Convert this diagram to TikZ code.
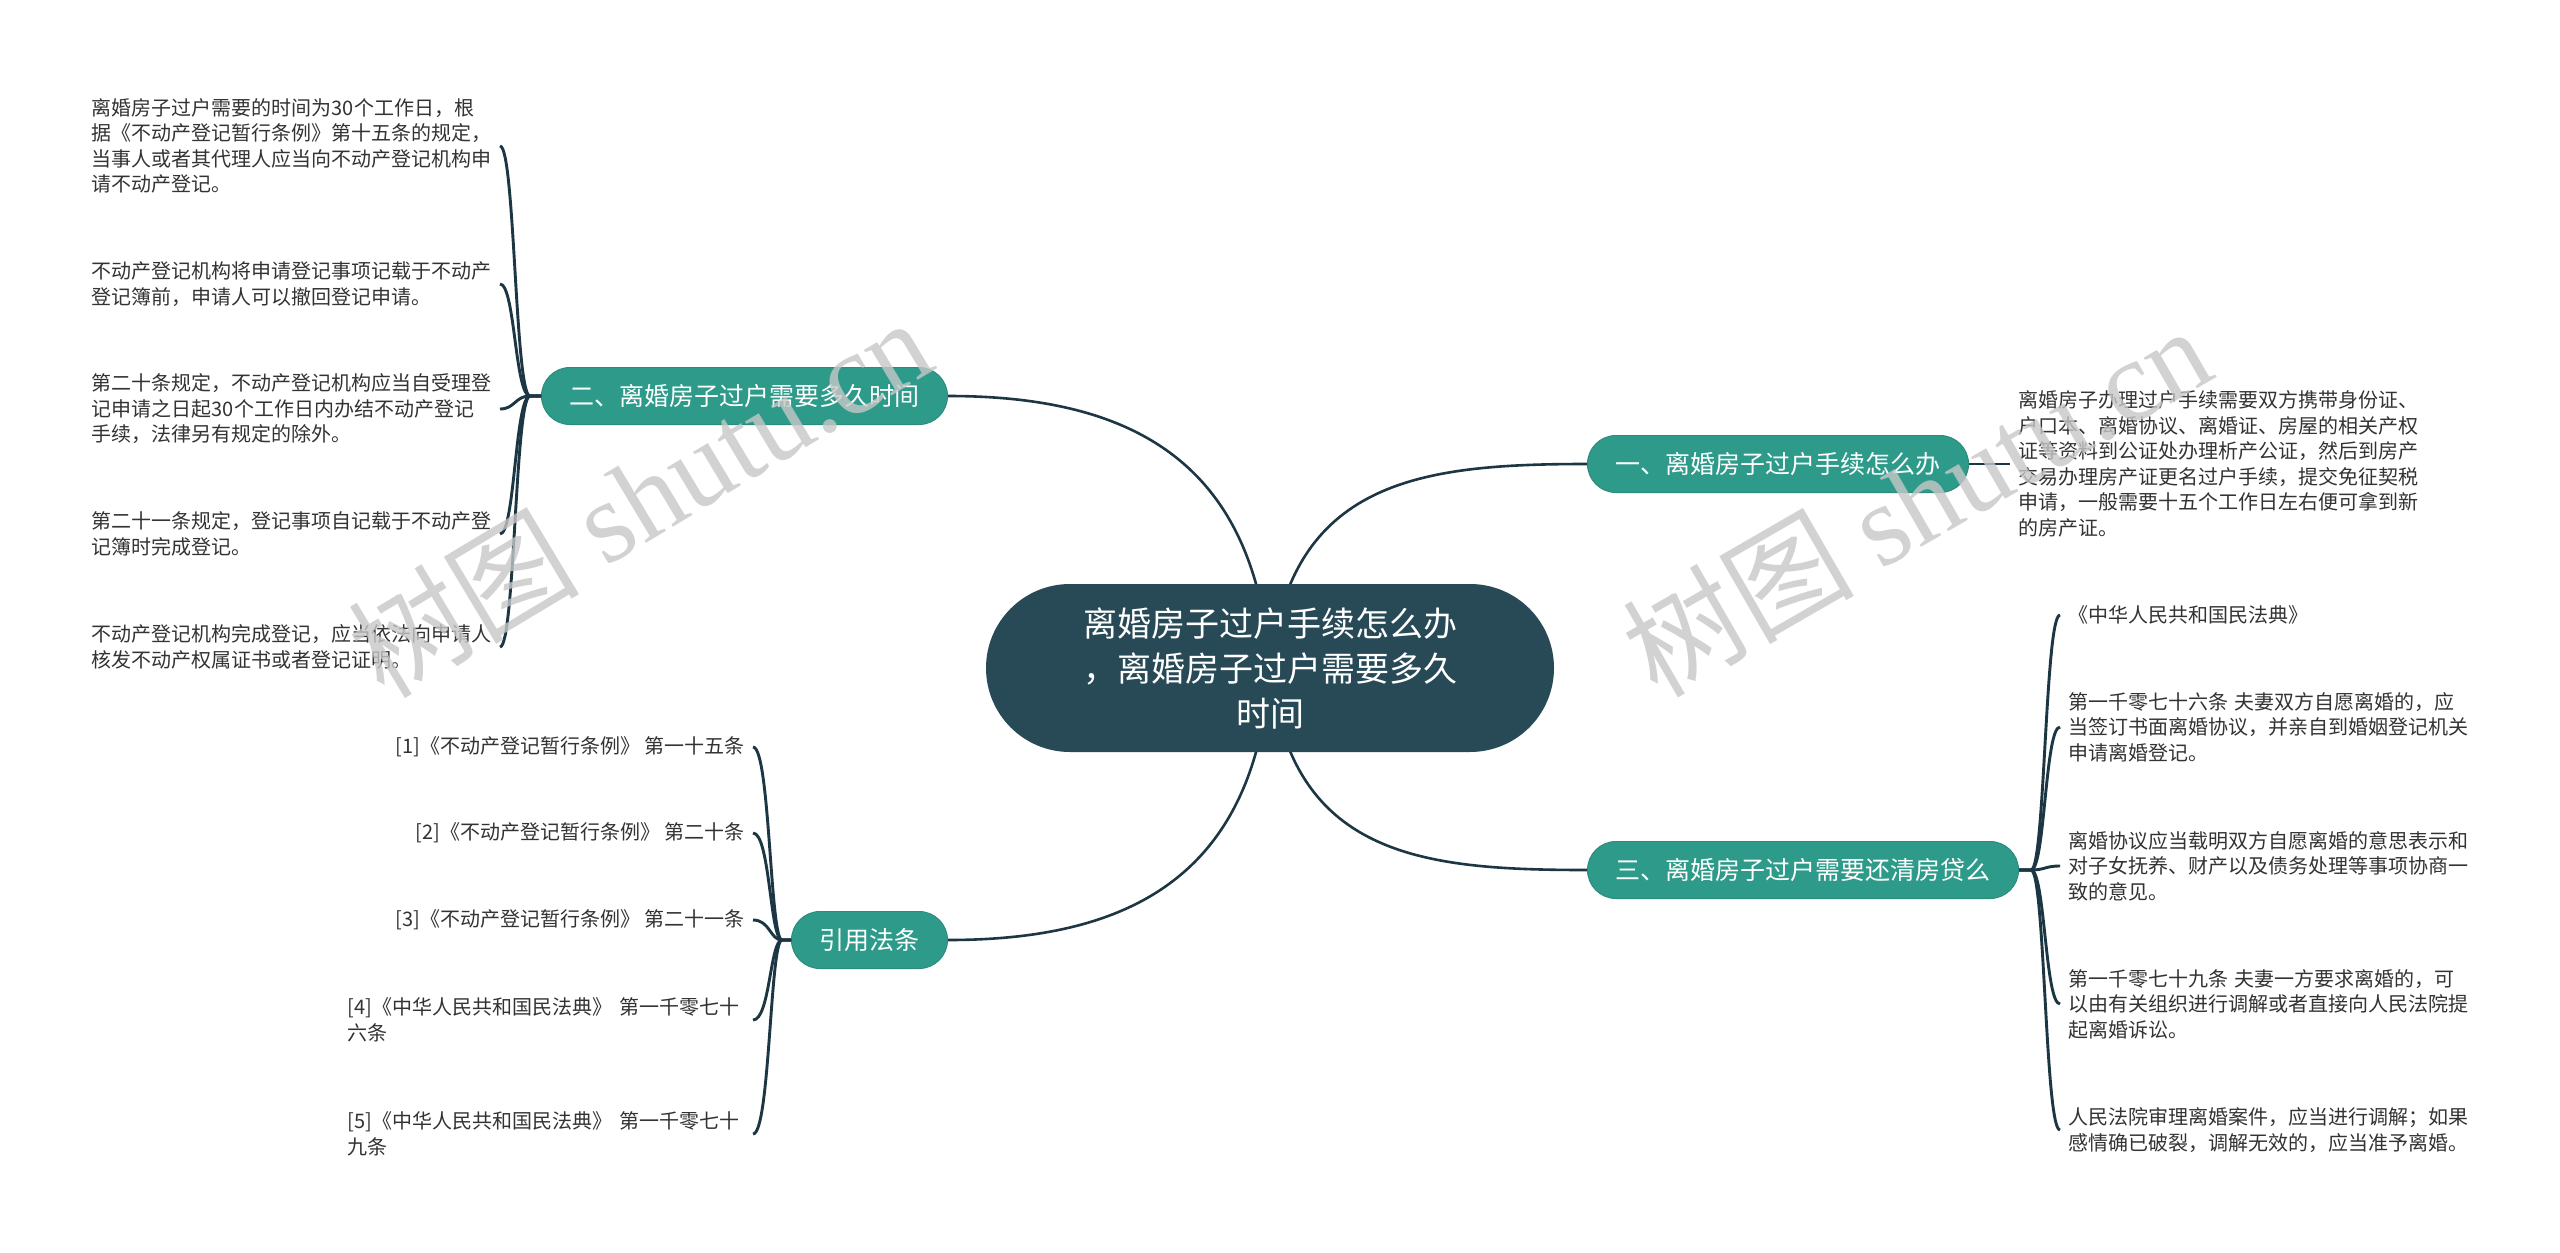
\documentclass[tikz,border=0pt]{standalone}
\usepackage{fontspec}
\setmainfont{Noto Sans CJK SC}
\newfontfamily\wmserif{Liberation Serif}
\definecolor{lineC}{HTML}{1C3643}
\definecolor{centerC}{HTML}{284A57}
\definecolor{tealA}{HTML}{2E9B8A}
\definecolor{tealB}{HTML}{2A8C7D}
\definecolor{leafT}{HTML}{333333}
\begin{document}
\begin{tikzpicture}[x=1pt,y=-1pt,
  conn/.style={draw=lineC, line width=2.9pt},
  cconn/.style={draw=lineC, line width=2.6pt},
  central/.style={fill=centerC, text=white, rounded corners=84pt, minimum width=568pt, minimum height=168pt, align=center, inner sep=0pt, font=\fontsize{34pt}{45pt}\selectfont},
  branch/.style={fill=tealA, draw=tealB, line width=1pt, text=white, rounded corners=28.5pt, minimum height=57pt, inner xsep=28pt, inner ysep=0pt, font=\fontsize{25pt}{30pt}\selectfont},
  leaf/.style={text=leafT, align=left, text width=400pt, inner xsep=8pt, inner ysep=4pt, font=\fontsize{20pt}{25.5pt}\selectfont},
  leafw/.style={text=leafT, align=left, text width=400pt, inner xsep=5pt, inner ysep=4pt, font=\fontsize{20pt}{25.5pt}\selectfont},
  leafone/.style={text=leafT, inner xsep=8pt, inner ysep=4pt, font=\fontsize{20pt}{25.5pt}\selectfont},
  wm/.style={text=black!22, opacity=0.8, anchor=base, font=\fontsize{116pt}{116pt}\selectfont}
]
\fill[white] (0,0) rectangle (2560,1253);
\useasboundingbox (0,0) rectangle (2560,1253);

\coordinate (cc) at (1270,668);

% branch nodes
\node[branch, anchor=west] (b1) at (1587,464) {一、离婚房子过户手续怎么办};
\node[branch, anchor=east] (b2) at (948,396) {二、离婚房子过户需要多久时间};
\node[branch, anchor=west] (b3) at (1587,870) {三、离婚房子过户需要还清房贷么};
\node[branch, anchor=east] (b4) at (948,940) {引用法条};

% leaves of branch 1
\node[leaf, anchor=west] (r1) at (2010,464) {离婚房子办理过户手续需要双方携带身份证、\\户口本、离婚协议、离婚证、房屋的相关产权\\证等资料到公证处办理析产公证，然后到房产\\交易办理房产证更名过户手续，提交免征契税\\申请，一般需要十五个工作日左右便可拿到新\\的房产证。};

% leaves of branch 2
\node[leaf, anchor=east] (la) at (500,146) {离婚房子过户需要的时间为30个工作日，根\\据《不动产登记暂行条例》第十五条的规定，\\当事人或者其代理人应当向不动产登记机构申\\请不动产登记。};
\node[leaf, anchor=east] (lb) at (500,284) {不动产登记机构将申请登记事项记载于不动产\\登记簿前，申请人可以撤回登记申请。};
\node[leaf, anchor=east] (lc) at (500,409) {第二十条规定，不动产登记机构应当自受理登\\记申请之日起30个工作日内办结不动产登记\\手续，法律另有规定的除外。};
\node[leaf, anchor=east] (ld) at (500,534) {第二十一条规定，登记事项自记载于不动产登\\记簿时完成登记。};
\node[leaf, anchor=east] (le) at (500,647) {不动产登记机构完成登记，应当依法向申请人\\核发不动产权属证书或者登记证明。};

% leaves of branch 3
\node[leafone, anchor=west] (m1) at (2060,615) {《中华人民共和国民法典》};
\node[leaf, anchor=west] (m2) at (2060,727) {第一千零七十六条 夫妻双方自愿离婚的，应\\当签订书面离婚协议，并亲自到婚姻登记机关\\申请离婚登记。};
\node[leaf, anchor=west] (m3) at (2060,866) {离婚协议应当载明双方自愿离婚的意思表示和\\对子女抚养、财产以及债务处理等事项协商一\\致的意见。};
\node[leaf, anchor=west] (m4) at (2060,1004) {第一千零七十九条 夫妻一方要求离婚的，可\\以由有关组织进行调解或者直接向人民法院提\\起离婚诉讼。};
\node[leaf, anchor=west] (m5) at (2060,1130) {人民法院审理离婚案件，应当进行调解；如果\\感情确已破裂，调解无效的，应当准予离婚。};

% leaves of branch 4
\node[leafone, anchor=east] (f1) at (753,747) {{}[1]《不动产登记暂行条例》 第一十五条};
\node[leafone, anchor=east] (f2) at (753,833) {{}[2]《不动产登记暂行条例》 第二十条};
\node[leafone, anchor=east] (f3) at (753,920) {{}[3]《不动产登记暂行条例》 第二十一条};
\node[leafw, anchor=east] (f4) at (753,1020) {{}[4]《中华人民共和国民法典》 第一千零七十\\六条};
\node[leafw, anchor=east] (f5) at (753,1134) {{}[5]《中华人民共和国民法典》 第一千零七十\\九条};

% central connectors
\draw[cconn] (b2.east) .. controls (1130,396) and (1255,460) .. (cc);
\draw[cconn] (b4.east) .. controls (1130,940) and (1255,876) .. (cc);
\draw[cconn] (b1.west) .. controls (1420,464) and (1290,480) .. (cc);
\draw[cconn] (b3.west) .. controls (1420,870) and (1290,856) .. (cc);

% branch 1
\draw[conn] (b1.east) -- (r1.west);

% branch 2
\draw[conn] (b2.west) -- (530,396) .. controls (515,396) and (515,146) .. (la.east);
\draw[conn] (b2.west) -- (530,396) .. controls (515,396) and (515,284) .. (lb.east);
\draw[conn] (b2.west) -- (530,396) .. controls (515,396) and (515,409) .. (lc.east);
\draw[conn] (b2.west) -- (530,396) .. controls (515,396) and (515,534) .. (ld.east);
\draw[conn] (b2.west) -- (530,396) .. controls (515,396) and (515,647) .. (le.east);

% branch 3
\draw[conn] (b3.east) -- (2031,870) .. controls (2045,870) and (2045,615) .. (m1.west);
\draw[conn] (b3.east) -- (2031,870) .. controls (2045,870) and (2045,727) .. (m2.west);
\draw[conn] (b3.east) -- (2031,870) .. controls (2045,870) and (2045,866) .. (m3.west);
\draw[conn] (b3.east) -- (2031,870) .. controls (2045,870) and (2045,1004) .. (m4.west);
\draw[conn] (b3.east) -- (2031,870) .. controls (2045,870) and (2045,1130) .. (m5.west);

% branch 4
\draw[conn] (b4.west) -- (782,940) .. controls (770,940) and (770,747) .. (f1.east);
\draw[conn] (b4.west) -- (782,940) .. controls (770,940) and (770,833) .. (f2.east);
\draw[conn] (b4.west) -- (782,940) .. controls (770,940) and (770,920) .. (f3.east);
\draw[conn] (b4.west) -- (782,940) .. controls (770,940) and (770,1020) .. (f4.east);
\draw[conn] (b4.west) -- (782,940) .. controls (770,940) and (770,1134) .. (f5.east);

% central node
\node[central] (c) at (cc) {离婚房子过户手续怎么办\\，离婚房子过户需要多久\\时间};

% watermarks
\node[wm, rotate=31] (w1) at (662,534) {树图 {\wmserif shutu.cn}};
\node[wm, rotate=30] (w2) at (1938,538) {树图 {\wmserif shutu.cn}};
\end{tikzpicture}
\end{document}
